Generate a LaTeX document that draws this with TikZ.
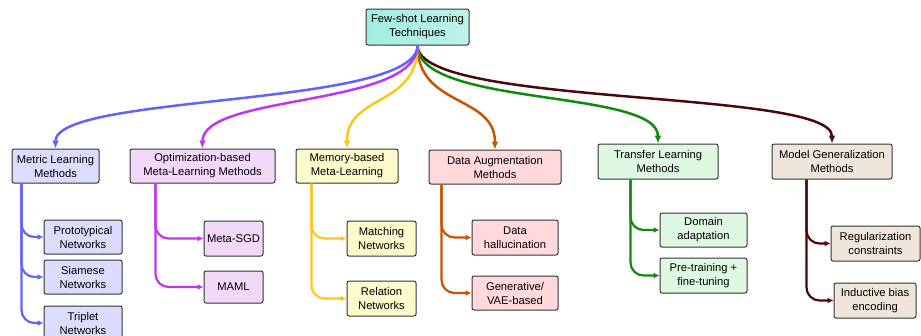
\documentclass[tikz,border=0pt]{standalone}
\usepackage{fontspec}
\setmainfont{Liberation Sans}
\usetikzlibrary{arrows.meta,calc}
\definecolor{cblue}{HTML}{6262FF}
\definecolor{fblue}{HTML}{DCDCFF}
\definecolor{cpurp}{HTML}{C035F2}
\definecolor{fpurp}{HTML}{F2D9FA}
\definecolor{cyell}{HTML}{FFC61A}
\definecolor{fyell}{HTML}{FBFBCC}
\definecolor{corng}{HTML}{CC5200}
\definecolor{forng}{HTML}{FFD9DC}
\definecolor{cgrn}{HTML}{0E8A0E}
\definecolor{fgrn}{HTML}{DFF8E2}
\definecolor{cbrn}{HTML}{4A0808}
\definecolor{fbrn}{HTML}{EFE5DA}
\definecolor{edge}{HTML}{333333}
\definecolor{rootl}{HTML}{A2EDE0}
\definecolor{rootm}{HTML}{DAF8F3}
\definecolor{rootr}{HTML}{BDF2EA}
\begin{document}
\begin{tikzpicture}[x=1pt,y=-1pt,
  box/.style={draw=edge,line width=1pt,rounded corners=2pt,inner sep=0pt,align=center,
    font=\fontsize{11.2}{14}\selectfont},
  sz/.style 2 args={minimum width=#1pt,minimum height=#2pt},
  toparr/.style={line width=2.5pt,-{Latex[length=8pt,width=7pt]}},
  subarr/.style={line width=2.2pt,rounded corners=13pt,-{Latex[length=6pt,width=6pt]}}]
\useasboundingbox (0,0) rectangle (921,335);
% root
\node[box,sz={103}{36},left color=rootl,middle color=rootm,right color=rootr] (root) at (417.5,27) {Few-shot Learning\\Techniques};
% categories
\node[box,sz={87}{34},fill=fblue] (metric) at (55.5,166) {Metric Learning\\Methods};
\node[box,sz={145}{34},fill=fpurp] (opt) at (202.5,166) {Optimization-based\\Meta-Learning Methods};
\node[box,sz={102}{34},fill=fyell] (mem) at (347,166) {Memory-based\\Meta-Learning};
\node[box,sz={132}{34},fill=forng] (aug) at (495,167) {Data Augmentation\\Methods};
\node[box,sz={120}{35},fill=fgrn] (trans) at (658,161.5) {Transfer Learning\\Methods};
\node[box,sz={120}{35},fill=fbrn] (model) at (832,161.5) {Model Generalization\\Methods};
% children
\node[box,sz={78}{34},fill=fblue] (proto) at (83,237) {Prototypical\\Networks};
\node[box,sz={78}{34},fill=fblue] (siam) at (83,277) {Siamese\\Networks};
\node[box,sz={78}{34},fill=fblue] (trip) at (83,323) {Triplet\\Networks};
\node[box,sz={59}{35},fill=fpurp] (msgd) at (233.5,238.5) {Meta-SGD};
\node[box,sz={59}{32},fill=fpurp] (maml) at (233.5,287) {MAML};
\node[box,sz={69}{35},fill=fyell] (match) at (381.5,238.5) {Matching\\Networks};
\node[box,sz={69}{35},fill=fyell] (rel) at (381.5,298.5) {Relation\\Networks};
\node[box,sz={86}{35},fill=forng] (hall) at (515,237.5) {Data\\hallucination};
\node[box,sz={86}{34},fill=forng] (gen) at (515,293) {Generative/\\VAE-based};
\node[box,sz={87}{34},fill=fgrn] (dom) at (703.5,230) {Domain\\adaptation};
\node[box,sz={87}{35},fill=fgrn] (pre) at (703.5,275.5) {Pre-training +\\fine-tuning};
\node[box,sz={89}{35},fill=fbrn] (reg) at (875.5,243.5) {Regularization\\constraints};
\node[box,sz={82}{35},fill=fbrn] (ind) at (875,300.5) {Inductive bias\\encoding};
% top connectors
\draw[toparr,cbrn] (root.south) .. controls +(0,62) and +(0,-55) .. (model.north);
\draw[toparr,cgrn] (root.south) .. controls +(0,62) and +(0,-55) .. (trans.north);
\draw[toparr,corng] (root.south) .. controls +(0,62) and +(0,-55) .. (aug.north);
\draw[toparr,cyell] (root.south) .. controls +(0,62) and +(0,-55) .. (mem.north);
\draw[toparr,cpurp] (root.south) .. controls +(0,62) and +(0,-55) .. (opt.north);
\draw[toparr,cblue] (root.south) .. controls +(0,62) and +(0,-55) .. (metric.north);
% sub connectors
\draw[subarr,cblue] ([xshift=10pt]metric.south west) |- (trip.west);
\draw[subarr,cblue] ([xshift=10pt]metric.south west) |- (siam.west);
\draw[subarr,cblue] ([xshift=10pt]metric.south west) |- (proto.west);
\draw[subarr,cpurp] ([xshift=26pt]opt.south west) |- (maml.west);
\draw[subarr,cpurp] ([xshift=26pt]opt.south west) |- (msgd.west);
\draw[subarr,cyell] ([xshift=16pt]mem.south west) |- (rel.west);
\draw[subarr,cyell] ([xshift=16pt]mem.south west) |- (match.west);
\draw[subarr,corng] ([xshift=13pt]aug.south west) |- (gen.west);
\draw[subarr,corng] ([xshift=13pt]aug.south west) |- (hall.west);
\draw[subarr,cgrn] ([xshift=33pt]trans.south west) |- (pre.west);
\draw[subarr,cgrn] ([xshift=33pt]trans.south west) |- (dom.west);
\draw[subarr,cbrn] ([xshift=35pt]model.south west) |- (ind.west);
\draw[subarr,cbrn] ([xshift=35pt]model.south west) |- (reg.west);
\end{tikzpicture}
\end{document}
